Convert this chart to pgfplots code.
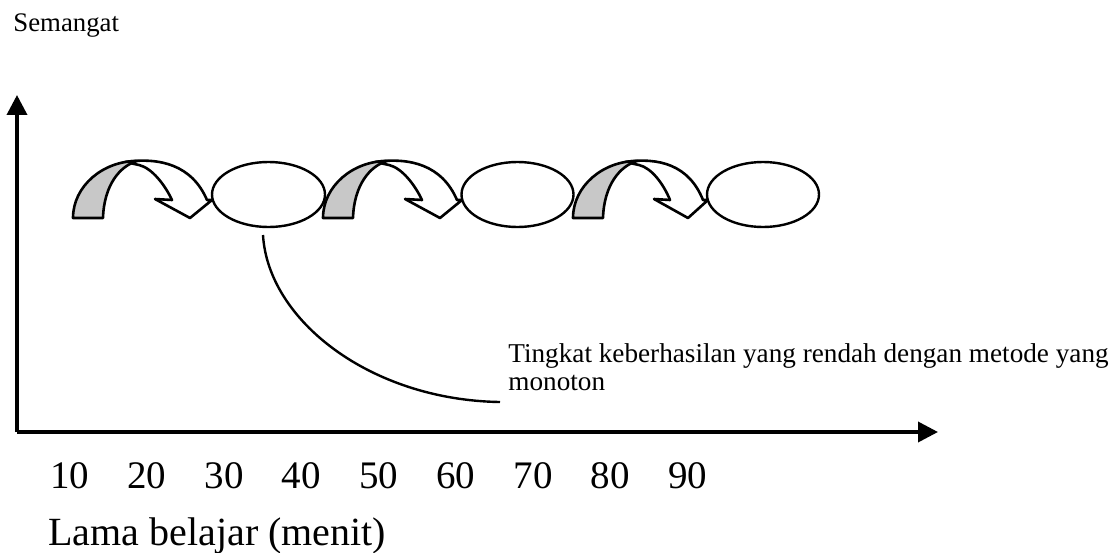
\documentclass[border=0pt]{standalone}
\usepackage{pgfplots}
\pgfplotsset{compat=1.18}
\usepackage{fontspec}
\setmainfont{Liberation Serif}
\usetikzlibrary{arrows.meta}
\definecolor{arrgray}{RGB}{200,200,200}
\begin{document}
\begin{tikzpicture}
\useasboundingbox (0,0) rectangle (556.5pt,276pt);
% main axis (time in minutes)
\begin{axis}[
  at={(8.5pt,60pt)}, anchor=south west,
  scale only axis, width=460.5pt, height=168.5pt,
  xmin=3.2, xmax=122.43, ymin=0, ymax=1,
  enlargelimits=false, clip=false,
  axis lines=left,
  axis line style={line width=1.8pt, -{Triangle[length=10pt,width=10pt]}},
  xtick={10,20,30,40,50,60,70,80,90}, ytick=\empty,
  major tick length=0pt,
  /pgf/number format/assume math mode=true,
  xticklabel style={font=\fontsize{19.5}{22}\selectfont, anchor=base, yshift=-28pt, inner sep=0pt},
  xlabel={Lama belajar (menit)},
  xlabel style={at={(rel axis cs:0,0)}, anchor=base west, xshift=15.5pt, yshift=-56.5pt, inner sep=0pt, font=\fontsize{20}{24}\selectfont},
  ylabel={Semangat},
  ylabel style={rotate=-90, at={(rel axis cs:0,1)}, anchor=base west, xshift=-2pt, yshift=31.5pt, inner sep=0pt, font=\fontsize{13.4}{16}\selectfont},
]
\end{axis}
% overlay in pixel coordinates for the schematic shapes
\begin{axis}[
  at={(0pt,0pt)}, anchor=south west,
  scale only axis, width=556.5pt, height=276pt,
  xmin=0, xmax=1113, ymin=0, ymax=552, y dir=reverse,
  hide axis, clip=false,
]
% --- curved arrow 1 ---
\draw[line width=1.3pt, fill=white, line join=round]
  (axis cs:125,162) .. controls (axis cs:160,157) and (axis cs:192,165) .. (axis cs:207,200)
  -- (axis cs:212,200) -- (axis cs:190,218) -- (axis cs:155,199) -- (axis cs:172,200)
  .. controls (axis cs:165,185) and (axis cs:152,168) .. (axis cs:139,165) -- cycle;
\draw[line width=1.3pt, fill=arrgray, line join=round]
  (axis cs:73,218) .. controls (axis cs:73,186) and (axis cs:103,161) .. (axis cs:137,161)
  .. controls (axis cs:120,166) and (axis cs:104,185) .. (axis cs:103,218) -- cycle;
% --- curved arrow 2 ---
\draw[line width=1.3pt, fill=white, line join=round]
  (axis cs:375,162) .. controls (axis cs:410,157) and (axis cs:442,165) .. (axis cs:457,200)
  -- (axis cs:462,200) -- (axis cs:440,218) -- (axis cs:405,199) -- (axis cs:422,200)
  .. controls (axis cs:415,185) and (axis cs:402,168) .. (axis cs:389,165) -- cycle;
\draw[line width=1.3pt, fill=arrgray, line join=round]
  (axis cs:323,218) .. controls (axis cs:323,186) and (axis cs:353,161) .. (axis cs:387,161)
  .. controls (axis cs:370,166) and (axis cs:354,185) .. (axis cs:353,218) -- cycle;
% --- curved arrow 3 ---
\draw[line width=1.3pt, fill=white, line join=round]
  (axis cs:625,162) .. controls (axis cs:659,157) and (axis cs:689,165) .. (axis cs:703,200)
  -- (axis cs:708,200) -- (axis cs:688,218) -- (axis cs:654,199) -- (axis cs:670,200)
  .. controls (axis cs:664,185) and (axis cs:652,168) .. (axis cs:639,165) -- cycle;
\draw[line width=1.3pt, fill=arrgray, line join=round]
  (axis cs:573,218) .. controls (axis cs:573,186) and (axis cs:603,161) .. (axis cs:637,161)
  .. controls (axis cs:620,166) and (axis cs:604,185) .. (axis cs:603,218) -- cycle;
% --- ellipses ---
\draw[line width=1.2pt, fill=white] (axis cs:268.5,194.5) ellipse [x radius=28.25pt, y radius=16.25pt];
\draw[line width=1.2pt, fill=white] (axis cs:517.5,194.5) ellipse [x radius=28pt, y radius=16.25pt];
\draw[line width=1.2pt, fill=white] (axis cs:763,194.5) ellipse [x radius=28pt, y radius=16.25pt];
% --- callout curve ---
\draw[line width=1.2pt] (axis cs:263,235) .. controls (axis cs:268,320) and (axis cs:370,400) .. (axis cs:500,402);
% --- annotation ---
\node[anchor=base west, inner sep=0pt, font=\fontsize{13.6}{16}\selectfont] at (axis cs:508,362) {Tingkat keberhasilan yang rendah dengan metode yang};
\node[anchor=base west, inner sep=0pt, font=\fontsize{13.6}{16}\selectfont] at (axis cs:508,390) {monoton};
\end{axis}
\end{tikzpicture}
\end{document}
